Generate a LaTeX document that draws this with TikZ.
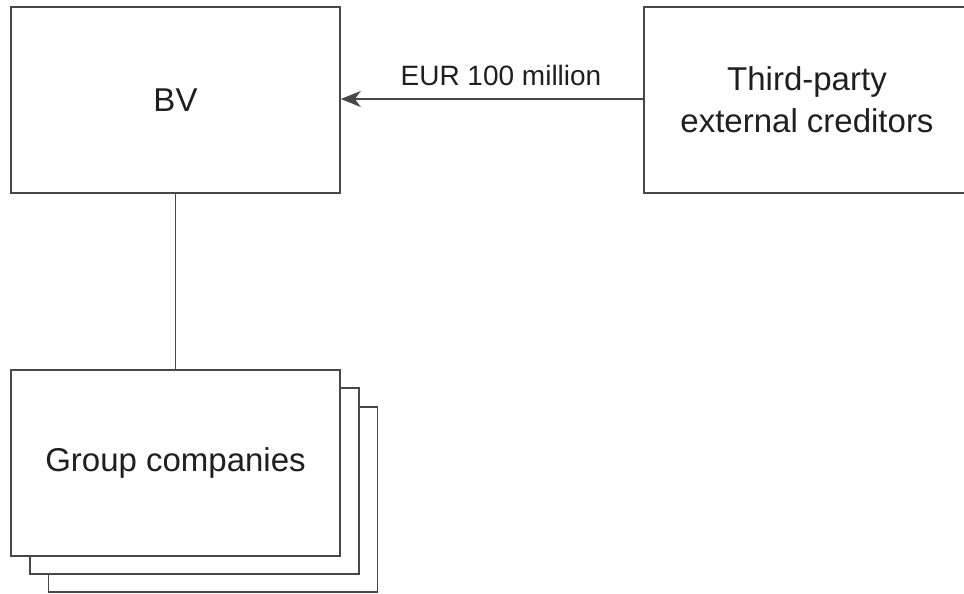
\documentclass[tikz,border=0pt]{standalone}
\usepackage{fontspec}
\setmainfont{Liberation Sans}
\usetikzlibrary{arrows.meta}
\begin{document}
\begin{tikzpicture}[x=1pt,y=-1pt,
  boxstyle/.style={draw=black!72, line width=1.6pt, fill=white, rectangle,
    minimum width=329pt, minimum height=186pt, inner sep=0pt, text=black!88,
    font=\fontsize{33}{42}\selectfont, align=center},
  linkstyle/.style={draw=black!72, line width=1.6pt},
  labelstyle/.style={text=black!88, font=\fontsize{28}{34}\selectfont, inner sep=0pt}]
\useasboundingbox (0,0) rectangle (964,594);
\node[boxstyle] (bv) at (175.5,100) {BV};
\node[boxstyle, minimum width=326pt] (tp) at (807,100) {Third-party\\external creditors};
\node[boxstyle, minimum height=185pt] (g3) at (213,499.5) {};
\node[boxstyle] (g2) at (194.5,481) {};
\node[boxstyle] (g1) at (175.5,463) {Group companies};
\draw[linkstyle] (bv.south) -- (g1.north);
\draw[linkstyle, -{Stealth[length=20pt, width=16pt, inset=6pt]}] (tp.west |- 0,99) -- (bv.east |- 0,99);
\node[labelstyle] (lbl) at (501,75) {EUR 100 million};
\end{tikzpicture}
\end{document}
